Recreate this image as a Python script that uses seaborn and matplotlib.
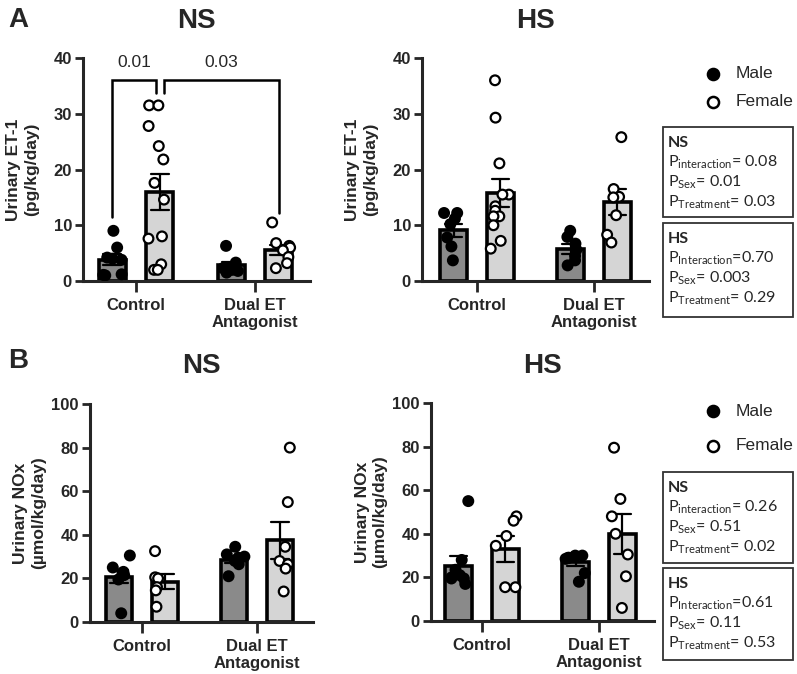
import numpy as np
import pandas as pd
import matplotlib
matplotlib.use("Agg")
import matplotlib.pyplot as plt
import seaborn as sns
from matplotlib.lines import Line2D
from matplotlib.patches import Rectangle

# ---------------- data ----------------
categories = ["Control", "Dual ET\nAntagonist"]
sexes = ["Male", "Female"]

# Urinary ET-1 (pg/kg/day), NS
et1_ns_male_control = [9.0, 6.0, 4.2, 4.0, 3.8, 1.2, 1.1, 1.0]
et1_ns_female_control = [31.5, 31.5, 27.8, 24.2, 21.8, 17.6, 14.6, 8.0, 7.6, 3.0, 2.0, 2.0]
et1_ns_male_dual = [6.3, 3.3, 2.5, 2.3, 2.0, 1.8, 1.5]
et1_ns_female_dual = [10.5, 6.8, 6.3, 6.0, 5.5, 4.3, 3.2, 2.3]
# Urinary ET-1 (pg/kg/day), HS
et1_hs_male_control = [12.2, 12.2, 11.2, 10.2, 7.8, 6.2, 3.7]
et1_hs_female_control = [36.0, 29.3, 21.1, 15.5, 15.5, 13.4, 12.6, 11.6, 11.6, 10.0, 7.2, 5.8]
et1_hs_male_dual = [9.0, 7.9, 6.7, 5.6, 4.5, 3.7, 2.8]
et1_hs_female_dual = [25.8, 16.5, 15.1, 15.0, 11.8, 8.3, 6.9]
# Urinary NOx (umol/kg/day), NS
nox_ns_male_control = [30.5, 25.0, 23.0, 22.5, 21.5, 19.5, 4.0]
nox_ns_female_control = [32.5, 20.5, 20.0, 16.0, 14.5, 7.0]
nox_ns_male_dual = [34.5, 31.0, 30.0, 29.5, 28.0, 26.5, 21.0]
nox_ns_female_dual = [80.0, 55.0, 34.5, 28.0, 26.5, 24.5, 14.0]
# Urinary NOx (umol/kg/day), HS
nox_hs_male_control = [55.0, 28.0, 23.5, 21.0, 20.0, 19.5, 19.5, 17.0]
nox_hs_female_control = [48.0, 46.0, 39.0, 34.5, 15.5, 15.5]
nox_hs_male_dual = [30.0, 30.0, 29.5, 29.0, 29.0, 28.5, 22.0, 18.0]
nox_hs_female_dual = [79.5, 56.0, 48.0, 40.0, 30.5, 20.5, 6.0]

et1_ticks = [0, 10, 20, 30, 40]
nox_ticks = [0, 20, 40, 60, 80, 100]

et1_label = "Urinary ET-1\n(pg/kg/day)"
nox_label = "Urinary NOx\n(µmol/kg/day)"

stats_A_ns = ["NS", r"P$_{interaction}$= 0.08", r"P$_{Sex}$= 0.01", r"P$_{Treatment}$= 0.03"]
stats_A_hs = ["HS", r"P$_{Interaction}$=0.70", r"P$_{Sex}$= 0.003", r"P$_{Treatment}$= 0.29"]
stats_B_ns = ["NS", r"P$_{interaction}$= 0.26", r"P$_{Sex}$= 0.51", r"P$_{Treatment}$= 0.02"]
stats_B_hs = ["HS", r"P$_{Interaction}$=0.61", r"P$_{Sex}$= 0.11", r"P$_{Treatment}$= 0.53"]

pvals_A_ns = ["0.01", "0.03"]


def make_df(mc, fc, md, fd):
    rows = []
    for cat, sex, vals in [(categories[0], "Male", mc), (categories[0], "Female", fc),
                           (categories[1], "Male", md), (categories[1], "Female", fd)]:
        for v in vals:
            rows.append({"Treatment": cat, "Sex": sex, "Value": v})
    return pd.DataFrame(rows)


# ---------------- style ----------------
sns.set_style("ticks")
plt.rcParams["font.family"] = ["Liberation Sans", "DejaVu Sans"]
plt.rcParams["mathtext.default"] = "regular"
np.random.seed(3)

W, H = 797, 674
fig = plt.figure(figsize=(W / 100, H / 100), dpi=100)


def fx(px):
    return px / W


def fy(py):
    return 1 - py / H


def make_axes(left, right, top, bottom):
    return fig.add_axes([fx(left), fy(bottom), (right - left) / W, (bottom - top) / H])


bar_pal = {"Male": "#8a8a8a", "Female": "#d5d5d5"}
pt_pal = {"Male": "black", "Female": "white"}


def panel(ax, df, ticks, left, right, t0, t1, ylabel, title, title_y):
    sns.barplot(data=df, x="Treatment", y="Value", hue="Sex", order=categories,
                hue_order=sexes, palette=bar_pal, errorbar="se", capsize=0.3,
                err_kws={"color": "black", "linewidth": 1.6}, edgecolor="black",
                linewidth=2.6, width=0.8, gap=0.43, ax=ax, legend=False)
    sns.stripplot(data=df, x="Treatment", y="Value", hue="Sex", order=categories,
                  hue_order=sexes, dodge=True, jitter=0.2, palette=pt_pal,
                  edgecolor="black", linewidth=1.6, size=7, ax=ax, legend=False,
                  zorder=3)
    s = t1 - t0
    ax.set_xlim(-(t0 - left) / s, 1 + (right - t1) / s)
    ax.set_ylim(ticks[0], ticks[-1])
    ax.set_yticks(ticks)
    ax.set_xlabel("")
    ax.set_ylabel("")
    sns.despine(ax=ax)
    for sp in ["left", "bottom"]:
        ax.spines[sp].set_linewidth(2.2)
    ax.tick_params(axis="y", width=2, length=6, labelsize=12, pad=2)
    ax.tick_params(axis="x", width=2, length=8, labelsize=12, pad=4)
    for lab in ax.get_xticklabels() + ax.get_yticklabels():
        lab.set_fontweight("bold")
    for lab in ax.get_xticklabels():
        lab.set_multialignment("center")
    ax.patch.set_alpha(0)
    top_px = (1 - ax.get_position().y1) * H
    bot_px = (1 - ax.get_position().y0) * H
    fig.text(fx(left - 60), fy((top_px + bot_px) / 2), ylabel, rotation=90,
             ha="center", va="center", fontsize=12.5, fontweight="bold",
             multialignment="center", linespacing=1.25)
    fig.text(fx((left + right) / 2), fy(title_y), title, ha="center",
             va="baseline", fontsize=20, fontweight="bold")


def legend(y_male, y_female):
    for y, lab in [(y_male, "Male"), (y_female, "Female")]:
        fig.add_artist(Line2D([fx(713)], [fy(y)], transform=fig.transFigure,
                              marker="o", ls="", ms=8, mfc=pt_pal[lab], mec="black",
                              mew=1.8))
        fig.text(fx(736), fy(y), lab, ha="left", va="center", fontsize=12.5)


def stat_box(top, bottom, lines):
    fig.add_artist(Rectangle((fx(663), fy(bottom)), (793 - 663) / W, (bottom - top) / H,
                             transform=fig.transFigure, fill=False, edgecolor="#333333",
                             linewidth=1.3))
    fig.text(fx(668), fy(top + 20), lines[0], ha="left", va="baseline", fontsize=11.5,
             fontweight="bold", family=["Lato", "DejaVu Sans"])
    for i, ln in enumerate(lines[1:]):
        fig.text(fx(668), fy(top + 40 + 20 * i), ln, ha="left", va="baseline",
                 fontsize=11.5, family=["Lato", "DejaVu Sans"])


# ---------------- panels ----------------
axA1 = make_axes(83, 310, 58, 281)
panel(axA1, make_df(et1_ns_male_control, et1_ns_female_control, et1_ns_male_dual,
                    et1_ns_female_dual), et1_ticks, 83, 310, 136, 255, et1_label, "NS", 28)
axA2 = make_axes(422, 649, 58, 281)
panel(axA2, make_df(et1_hs_male_control, et1_hs_female_control, et1_hs_male_dual,
                    et1_hs_female_dual), et1_ticks, 422, 649, 477, 594, et1_label, "HS", 28)
axB1 = make_axes(90, 313, 404, 622)
panel(axB1, make_df(nox_ns_male_control, nox_ns_female_control, nox_ns_male_dual,
                    nox_ns_female_dual), nox_ticks, 90, 313, 142, 257, nox_label, "NS", 373)
axB2 = make_axes(431, 654, 403, 621)
panel(axB2, make_df(nox_hs_male_control, nox_hs_female_control, nox_hs_male_dual,
                    nox_hs_female_dual), nox_ticks, 431, 654, 482, 599, nox_label, "HS", 373)

# significance brackets in panel A NS
off = 0.2
d = 0.035
b1 = [(-off, 11.5), (-off, 36.0), (off - d, 36.0), (off - d, 33.7)]
b2 = [(off + d, 33.7), (off + d, 36.0), (1 + off, 36.0), (1 + off, 12.2)]
for br in (b1, b2):
    xs, ys = zip(*br)
    axA1.plot(xs, ys, color="black", lw=1.8, clip_on=False, zorder=4,
              solid_joinstyle="miter")
axA1.text((b1[0][0] + b1[2][0]) / 2, 39.2, pvals_A_ns[0], ha="center", va="center",
          fontsize=12.5)
axA1.text((b2[0][0] + b2[2][0]) / 2, 39.2, pvals_A_ns[1], ha="center", va="center",
          fontsize=12.5)

# legends and stats boxes
legend(74, 102)
legend(411, 446)
stat_box(127, 217, stats_A_ns)
stat_box(223, 317, stats_A_hs)
stat_box(472, 563, stats_B_ns)
stat_box(568, 660, stats_B_hs)

# panel letters
fig.text(fx(8), fy(27), "A", ha="left", va="baseline", fontsize=20, fontweight="bold")
fig.text(fx(8), fy(368), "B", ha="left", va="baseline", fontsize=20, fontweight="bold")

fig.savefig("out.png", dpi=100)
